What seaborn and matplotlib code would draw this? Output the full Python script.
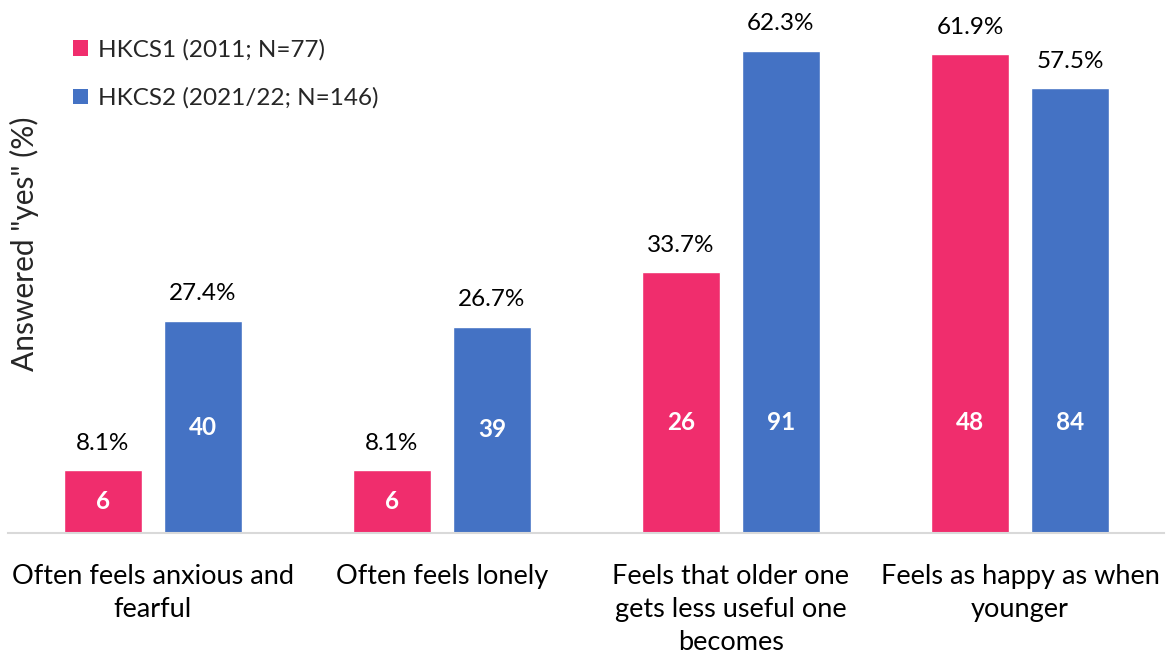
import matplotlib
matplotlib.use("Agg")
import matplotlib.pyplot as plt
import seaborn as sns
import pandas as pd
from matplotlib.patches import Patch

categories = [
    "Often feels anxious and\nfearful",
    "Often feels lonely",
    "Feels that older one\ngets less useful one\nbecomes",
    "Feels as happy as when\nyounger",
]
series_names = ["HKCS1 (2011; N=77)", "HKCS2 (2021/22; N=146)"]
pct_hkcs1 = [8.1, 8.1, 33.7, 61.9]
pct_hkcs2 = [27.4, 26.7, 62.3, 57.5]
n_hkcs1 = [6, 6, 26, 48]
n_hkcs2 = [40, 39, 91, 84]

colors = ["#F02D6D", "#4472C4"]

df = pd.DataFrame({
    "category": categories * 2,
    "survey": [series_names[0]] * 4 + [series_names[1]] * 4,
    "pct": pct_hkcs1 + pct_hkcs2,
})

sns.set_theme(style="white")
plt.rcParams["font.family"] = ["Lato", "DejaVu Sans"]

fig = plt.figure(figsize=(11.68, 6.55), dpi=100)
ax = fig.add_axes([0.007, 0.186, 0.990, 0.814])

sns.barplot(data=df, x="category", y="pct", hue="survey", palette=colors,
            width=0.692, gap=0.22, saturation=1, ax=ax, legend=False)

ax.set_xlim(-0.5, 3.5)
ax.set_ylim(0, 68.9)
ax.set_xlabel("")
ax.set_ylabel("")
ax.set_yticks([])
for s in ["top", "right", "left"]:
    ax.spines[s].set_visible(False)
ax.spines["bottom"].set_color("#D9D9D9")
ax.spines["bottom"].set_linewidth(1.5)
ax.tick_params(axis="x", length=0, pad=22, labelsize=19.5, labelcolor="black")
for lbl in ax.get_xticklabels():
    lbl.set_linespacing(1.4)

counts = [n_hkcs1, n_hkcs2]
pcts = [pct_hkcs1, pct_hkcs2]
for container, pv, nv in zip(ax.containers, pcts, counts):
    ax.bar_label(container, labels=[f"{v}%" for v in pv], padding=12,
                 fontsize=17.5, color="black")
    for bar, v, n in zip(container, pv, nv):
        y = min(v / 2, 14.3)
        ax.text(bar.get_x() + bar.get_width() / 2, y, str(n), ha="center",
                va="center", color="white", fontsize=17.5, fontweight="bold")

fig.text(0.021, 0.628, 'Answered "yes" (%)', rotation=90, ha="center",
         va="center", fontsize=21.5)

handles = [Patch(facecolor=c, edgecolor="none") for c in colors]
ax.legend(handles, series_names, loc="upper left", bbox_to_anchor=(0.048, 0.945),
          frameon=False, fontsize=17.5, handlelength=0.6, handleheight=0.6,
          handletextpad=0.4, labelspacing=1.1, borderaxespad=0)

fig.savefig("out.png", dpi=100)
